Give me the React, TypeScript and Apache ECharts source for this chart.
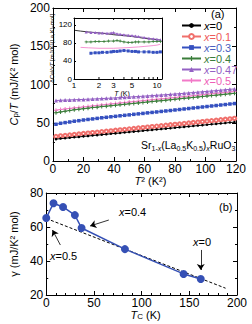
import React, { useEffect, useRef } from "react";
import * as echarts from "echarts";

const FONT = "'Liberation Sans', Arial, Helvetica, sans-serif";

// ---- panel (a): C_p/T vs T^2 ----
const T2 = [2, 5, 8, 11, 14, 17, 20, 23, 26, 29, 32, 35, 38, 41, 44, 47, 50, 53, 56, 59, 62, 65, 68, 71, 74, 77, 80, 83, 86, 89, 92, 95, 98, 101, 104, 107, 110, 113, 116, 119];
const cpX0 = [28.5, 29.3, 29.7, 30.4, 31.0, 31.4, 32.2, 32.6, 33.3, 33.8, 34.4, 34.9, 35.6, 36.1, 36.6, 37.3, 37.8, 38.4, 38.9, 39.5, 40.1, 40.6, 41.2, 41.7, 42.3, 42.8, 43.5, 44.0, 44.6, 45.1, 45.7, 46.3, 46.8, 47.4, 48.0, 48.5, 49.1, 49.6, 50.3, 50.8];
const cpX01 = [32.0, 32.8, 33.3, 33.9, 34.6, 35.1, 35.8, 36.4, 37.0, 37.5, 38.2, 38.8, 39.3, 40.0, 40.6, 41.1, 41.8, 42.4, 43.0, 43.5, 44.2, 44.8, 45.4, 45.9, 46.6, 47.2, 47.8, 48.3, 49.0, 49.6, 50.2, 50.7, 51.4, 52.0, 52.6, 53.1, 53.8, 54.4, 55.0, 55.6];
const cpX03 = [48.0, 49.3, 50.2, 51.0, 52.0, 52.7, 53.6, 54.3, 55.0, 55.7, 56.5, 57.1, 57.8, 58.4, 59.1, 59.7, 60.3, 61.0, 61.6, 62.2, 62.9, 63.5, 64.1, 64.8, 65.4, 66.0, 66.7, 67.3, 68.0, 68.6, 69.3, 69.9, 70.6, 71.2, 71.9, 72.5, 73.2, 73.8, 74.5, 75.1];
const cpX04 = [63.0, 64.2, 65.1, 66.0, 66.9, 67.6, 68.4, 69.1, 69.8, 70.4, 71.1, 71.7, 72.3, 72.9, 73.5, 74.1, 74.7, 75.3, 75.9, 76.5, 77.1, 77.7, 78.3, 78.9, 79.5, 80.1, 80.7, 81.3, 81.9, 82.5, 83.1, 83.7, 84.3, 84.9, 85.5, 86.1, 86.7, 87.3, 87.9, 88.4];
const cpX047 = [79.0, 79.4, 79.6, 79.8, 80.1, 80.3, 80.5, 80.8, 81.0, 81.3, 81.6, 81.9, 82.2, 82.5, 82.9, 83.2, 83.6, 84.0, 84.3, 84.7, 85.1, 85.5, 85.9, 86.3, 86.7, 87.1, 87.6, 88.0, 88.5, 89.0, 89.5, 90.0, 90.5, 91.0, 91.5, 92.0, 92.6, 93.1, 93.7, 94.2];
const cpX05 = [66.5, 67.3, 68.0, 68.7, 69.4, 70.0, 70.7, 71.4, 72.0, 72.7, 73.3, 73.9, 74.6, 75.2, 75.8, 76.4, 77.0, 77.6, 78.2, 78.8, 79.4, 80.0, 80.6, 81.2, 81.8, 82.4, 83.0, 83.6, 84.2, 84.8, 85.4, 86.0, 86.6, 87.2, 87.8, 88.4, 89.0, 89.6, 90.2, 90.8];

const seriesNames = ["x=0", "x=0.1", "x=0.3", "x=0.4", "x=0.47", "x=0.5"];
const seriesColors = ["#000000", "#f0706c", "#3550c0", "#3a7d3a", "#9461c4", "#f27ac8"];
const legendTextColors = ["#000000", "#ee5a5a", "#4a5fc0", "#3a7d3a", "#9461c4", "#ee5fb8"];

// ---- inset: ΔC_el/xT vs T (log) ----
const insT0 = [1, 1.2, 1.5, 2, 2.5, 3, 4, 5, 6, 7, 8, 9, 10, 11];
const insV0 = [108, 106, 104, 102, 100, 98, 96, 94, 92, 90, 89, 88, 87, 86];
const insT047 = [1.4, 1.6, 1.8, 2, 2.2, 2.5, 2.8, 3, 3.3, 3.6, 4, 4.5, 5, 5.5, 6, 7, 8, 9, 10, 11];
const insV047 = [104, 103, 103, 102, 102, 101, 102, 103, 100, 99, 98, 97, 96, 95, 94, 92, 90, 89, 88, 87];
const insT04 = [1.4, 1.6, 1.8, 2, 2.3, 2.6, 3, 3.3, 3.6, 4, 4.5, 5, 5.5, 6, 7, 8, 9, 10, 11];
const insV04 = [82, 82, 83, 83, 83, 84, 84, 85, 84, 82, 81, 81, 82, 82, 82, 82, 83, 83, 83];
const insT05 = [1.2, 1.5, 2, 2.5, 3, 4, 5, 6, 7, 8, 9, 10, 11];
const insV05 = [70, 69, 68, 68, 68, 69, 70, 71, 72, 73, 74, 75, 77];
const insT03 = [1.6, 1.8, 2, 2.2, 2.5, 2.8, 3, 3.3, 3.6, 4, 4.5, 5, 5.5, 6, 7, 8, 9, 10, 11];
const insV03 = [57, 58, 58, 59, 59, 60, 61, 61, 62, 63, 62, 61, 61, 60, 60, 60, 59, 59, 60];
const insMinorTicks = [2, 3, 4, 5, 6, 7, 8, 9];
const insExtraLabels = [2, 3, 5];

// ---- panel (b): gamma vs T_C ----
const gammaTc = [0, 7.6, 17.6, 30, 37, 82.5, 144, 162];
const gammaVal = [65.3, 74, 71.8, 67, 59.4, 47, 32.4, 29.4];
const dashTc = [0, 188];
const dashGamma = [65, 24];
const arrow04 = [[65.6, 64.1], [46, 60.6]];
const arrow05 = [[14.8, 49.4], [6.5, 58.2]];
const arrow0 = [[162, 46.5], [162, 34.7]];

const zip = (xs: number[], ys: number[]) => xs.map((x, i) => [x, ys[i]]);
const PLUS = "path://M3,0H5V3H8V5H5V8H3V5H0V3H3Z";

const rich = {
  n: { fontFamily: FONT },
  i: { fontFamily: FONT, fontStyle: "italic" },
  sub: { fontFamily: FONT, fontSize: 8, verticalAlign: "bottom" },
  sup: { fontFamily: FONT, fontSize: 8, verticalAlign: "top" },
};

function axis(o: any) {
  const base: any = {
    type: "value",
    axisLine: { show: true, onZero: false, lineStyle: { color: "#000", width: 1 } },
    axisTick: { show: true, inside: true, length: 4, lineStyle: { color: "#000", width: 1 } },
    minorTick: { show: true, splitNumber: 2, length: 2, lineStyle: { color: "#000", width: 1 } },
    splitLine: { show: false },
    axisLabel: { show: true, color: "#000", fontSize: 12, fontFamily: FONT, margin: 2 },
  };
  const r: any = { ...base, ...o };
  if (o.axisTick) r.axisTick = { ...base.axisTick, ...o.axisTick };
  if (o.minorTick) r.minorTick = { ...base.minorTick, ...o.minorTick };
  if (o.axisLabel) r.axisLabel = { ...base.axisLabel, ...o.axisLabel };
  return r;
}

export default function App() {
  const ref = useRef<HTMLDivElement>(null);
  useEffect(() => {
    const chart = echarts.init(ref.current!, null, { renderer: "svg" });
    const mainData = [cpX0, cpX01, cpX03, cpX04, cpX047, cpX05];
    const symbols = ["circle", "emptyCircle", "rect", PLUS, "triangle", PLUS];
    const sizes = [2.5, 3.5, 3.5, 4, 4, 4];
    const mainSeries = mainData.map((d, k) => ({
      name: seriesNames[k],
      type: "line",
      xAxisIndex: 0,
      yAxisIndex: 0,
      data: zip(T2, d),
      symbol: symbols[k],
      symbolSize: sizes[k],
      showSymbol: true,
      color: seriesColors[k],
      itemStyle: { color: seriesColors[k], borderColor: seriesColors[k], borderWidth: k === 1 ? 0.8 : 0 },
      lineStyle: { color: seriesColors[k], width: 1 },
      z: 10 - k,
    }));
    const insetSeries = [
      { d: zip(insT0, insV0), c: seriesColors[0], s: "none", sz: 0 },
      { d: zip(insT047, insV047), c: seriesColors[4], s: "triangle", sz: 3 },
      { d: zip(insT04, insV04), c: seriesColors[3], s: PLUS, sz: 3 },
      { d: zip(insT05, insV05), c: seriesColors[5], s: "none", sz: 0 },
      { d: zip(insT03, insV03), c: seriesColors[2], s: "rect", sz: 3 },
    ].map((o, k) => ({
      name: "inset" + k,
      type: "line",
      xAxisIndex: 2,
      yAxisIndex: 2,
      data: o.d,
      symbol: o.s,
      symbolSize: o.sz,
      itemStyle: { color: o.c },
      lineStyle: { color: o.c, width: 0.8 },
    }));

    const arrowLine = (a: number[][]) => [
      { coord: a[0], symbol: "none" },
      { coord: a[1], symbol: "arrow" },
    ];

    const option: any = {
      animation: false,
      textStyle: { fontFamily: FONT },
      grid: [
        { left: 43, top: 8, width: 193, height: 153 },
        { left: 74, top: 18, width: 88, height: 61 },
        { left: 44, top: 193, width: 193, height: 102 },
      ],
      legend: {
        orient: "vertical",
        left: 176,
        top: 15,
        itemWidth: 19,
        itemHeight: 6,
        itemGap: 0,
        data: seriesNames.map((n, k) => ({ name: n, textStyle: { color: legendTextColors[k] } })),
        formatter: (name: string) => `{i|x}{n|${name.slice(1)}}`,
        textStyle: {
          fontSize: 11,
          lineHeight: 11,
          fontFamily: FONT,
          padding: [0, 0, 0, -2],
          rich: { i: { fontStyle: "italic", fontSize: 11, fontFamily: FONT }, n: { fontSize: 11, fontFamily: FONT } },
        },
      },
      xAxis: [
        axis({
          gridIndex: 0, min: 0, max: 120, interval: 20, position: "bottom",
          name: "{i|T}{n|² (K²)}", nameLocation: "middle", nameGap: 11,
          nameTextStyle: { color: "#000", fontSize: 11, fontFamily: FONT, padding: [0, 0, 0, 12], rich },
        }),
        axis({ gridIndex: 0, min: 0, max: 120, interval: 20, position: "top", axisLabel: { show: false } }),
        axis({
          gridIndex: 1, type: "log", logBase: 10, min: 1, max: 11.5, position: "bottom",
          minorTick: { show: false }, axisTick: { length: 2 },
          axisLabel: { fontSize: 8, margin: 2, showMaxLabel: false },
          name: "{i|T}{n| (K)}", nameLocation: "middle", nameGap: 9,
          nameTextStyle: { color: "#000", fontSize: 7, fontFamily: FONT, padding: [0, 0, 0, 8], rich: { i: { fontStyle: "italic", fontSize: 7 }, n: { fontSize: 7 } } },
        }),
        axis({ gridIndex: 1, type: "log", logBase: 10, min: 1, max: 11.5, position: "top", axisLabel: { show: false }, axisTick: { show: false }, minorTick: { show: false } }),
        axis({
          gridIndex: 2, min: 0, max: 200, interval: 50, position: "bottom",
          minorTick: { splitNumber: 5 },
          name: "{i|T}{sub|C}{n| (K)}", nameLocation: "middle", nameGap: 14,
          nameTextStyle: { color: "#000", fontSize: 11, fontFamily: FONT, padding: [0, 0, 0, 8], rich },
        }),
        axis({ gridIndex: 2, min: 0, max: 200, interval: 50, position: "top", minorTick: { splitNumber: 5 }, axisLabel: { show: false } }),
      ],
      yAxis: [
        axis({
          gridIndex: 0, min: 0, max: 200, interval: 50, position: "left", axisLabel: { margin: 3 },
          name: "{i|C}{sub|p}{n|/}{i|T}{n| (mJ/K² mol)}", nameLocation: "middle", nameRotate: 90, nameGap: 25,
          nameTextStyle: { color: "#000", fontSize: 11, fontFamily: FONT, rich },
        }),
        axis({ gridIndex: 0, min: 0, max: 200, interval: 50, position: "right", axisLabel: { show: false } }),
        axis({
          gridIndex: 1, min: 0, max: 135, interval: 40, position: "left",
          minorTick: { show: false }, axisTick: { length: 2 },
          axisLabel: { fontSize: 8, margin: 2, showMaxLabel: false },
          name: "ΔC{sub|el}/{i|xT} [mJ/K²(La,K)-mol]", nameLocation: "middle", nameRotate: 90, nameGap: 15,
          nameTextStyle: { color: "#000", fontSize: 6, fontFamily: FONT, rich: { sub: { fontSize: 5, verticalAlign: "bottom" }, i: { fontStyle: "italic", fontSize: 6 } } },
        }),
        axis({ gridIndex: 1, min: 0, max: 135, interval: 40, position: "right", axisLabel: { show: false }, axisTick: { show: false }, minorTick: { show: false } }),
        axis({
          gridIndex: 2, min: 20, max: 80, interval: 20, position: "left", axisLabel: { margin: 3 },
          name: "{n|γ (mJ/K² mol)}", nameLocation: "middle", nameRotate: 90, nameGap: 25,
          nameTextStyle: { color: "#000", fontSize: 11, fontFamily: FONT, rich },
        }),
        axis({ gridIndex: 2, min: 20, max: 80, interval: 20, position: "right", axisLabel: { show: false } }),
      ],
      series: [
        ...mainSeries,
        ...insetSeries,
        {
          name: "dash",
          type: "line",
          xAxisIndex: 4,
          yAxisIndex: 4,
          data: zip(dashTc, dashGamma),
          symbol: "none",
          lineStyle: { color: "#000", width: 1, type: [3, 2] },
          markLine: {
            silent: true,
            symbolSize: 6,
            label: { show: false },
            lineStyle: { color: "#000", width: 0.8, type: "solid" },
            data: [arrowLine(arrow04), arrowLine(arrow05), arrowLine(arrow0)],
          },
        },
        {
          name: "gamma",
          type: "line",
          xAxisIndex: 4,
          yAxisIndex: 4,
          data: zip(gammaTc, gammaVal),
          symbol: "circle",
          symbolSize: 8,
          itemStyle: { color: "#3550b5" },
          lineStyle: { color: "#3550b5", width: 1.5 },
          z: 5,
        },
      ],
      graphic: [
        { id: "lab-a", type: "text", left: 211, top: 8, style: { text: "(a)", fontSize: 11, fontFamily: FONT, fill: "#000" } },
        {
          id: "formula", type: "text", left: 141, top: 139,
          style: {
            text: "{n|Sr}{s|1-}{si|x}{n|(La}{s|0.5}{n|K}{s|0.5}{n|)}{si|x}{n|RuO}{s|3}",
            fill: "#000", fontFamily: FONT,
            rich: {
              n: { fontSize: 10.5, fontFamily: FONT, lineHeight: 15 },
              s: { fontSize: 7, fontFamily: FONT, verticalAlign: "bottom" },
              si: { fontSize: 7, fontFamily: FONT, fontStyle: "italic", verticalAlign: "bottom" },
            },
          },
        },
        { id: "lab-b", type: "text", left: 219, top: 201, style: { text: "(b)", fontSize: 11, fontFamily: FONT, fill: "#000" } },
        { id: "t04", type: "text", left: 119, top: 206, style: { text: "{i|x}{n|=0.4}", fill: "#000", rich: { i: { fontStyle: "italic", fontSize: 11, fontFamily: FONT }, n: { fontSize: 11, fontFamily: FONT } } } },
        { id: "t05", type: "text", left: 50, top: 250, style: { text: "{i|x}{n|=0.5}", fill: "#000", rich: { i: { fontStyle: "italic", fontSize: 11, fontFamily: FONT }, n: { fontSize: 11, fontFamily: FONT } } } },
        { id: "t0", type: "text", left: 193, top: 236, style: { text: "{i|x}{n|=0}", fill: "#000", rich: { i: { fontStyle: "italic", fontSize: 11, fontFamily: FONT }, n: { fontSize: 11, fontFamily: FONT } } } },
      ],
    };
    chart.setOption(option);

    // inset log-axis minor ticks and the 2, 3, 5 labels, placed through the axis scale
    const yb = chart.convertToPixel({ yAxisIndex: 2 } as any, 0) as number;
    const yt = chart.convertToPixel({ yAxisIndex: 2 } as any, 135) as number;
    const extra: any[] = [];
    insMinorTicks.forEach((t) => {
      const px = chart.convertToPixel({ xAxisIndex: 2 } as any, t) as number;
      extra.push({ id: "mtb" + t, type: "line", shape: { x1: px, y1: yb, x2: px, y2: yb - 2 }, style: { stroke: "#000", lineWidth: 1 } });
      extra.push({ id: "mtt" + t, type: "line", shape: { x1: px, y1: yt, x2: px, y2: yt + 2 }, style: { stroke: "#000", lineWidth: 1 } });
    });
    insExtraLabels.forEach((t) => {
      const px = chart.convertToPixel({ xAxisIndex: 2 } as any, t) as number;
      extra.push({ id: "ml" + t, type: "text", x: px, y: yb + 2, style: { text: String(t), fontSize: 8, fontFamily: FONT, fill: "#000", align: "center", verticalAlign: "top" } });
    });
    chart.setOption({ graphic: extra });
    return () => chart.dispose();
  }, []);
  return <div ref={ref} style={{ position: "absolute", left: 0, top: 0, width: 252, height: 324 }} />;
}
